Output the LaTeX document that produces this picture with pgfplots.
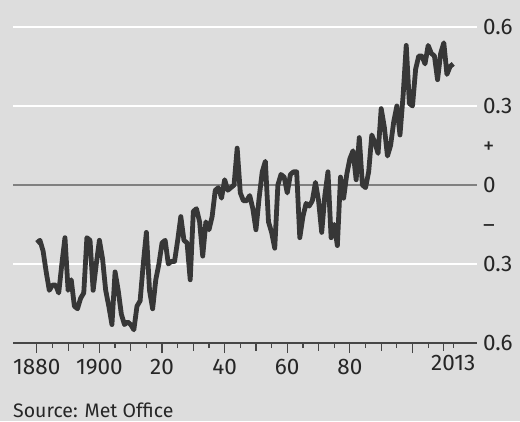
\documentclass[border=0pt]{standalone}
\usepackage{fontspec}
\setmainfont{Fira Sans}
\usepackage{pgfplots}
\pgfplotsset{compat=1.18}
\definecolor{bg}{RGB}{221,221,221}
\definecolor{linec}{RGB}{55,55,55}
\definecolor{axisc}{RGB}{70,70,70}
\definecolor{zeroc}{RGB}{128,128,128}

\begin{document}
\begin{tikzpicture}
\path[use as bounding box, fill=bg] (-13pt,-78pt) rectangle (507pt,343pt);
\begin{axis}[
    at={(0,0)}, anchor=south west,
    scale only axis, width=464pt, height=316pt,
    xmin=1872.4, xmax=2020.6, ymin=-0.6, ymax=0.6,
    clip=false,
    axis x line*=bottom, axis y line*=right,
    y axis line style={draw=none},
    x axis line style={line width=1.3pt, color=axisc},
    tick align=outside,
    xtick style={line width=1.2pt, color=axisc},
    ytick style={draw=none},
    major tick length=10pt, minor tick length=5pt,
    xtick={1880,1900,1920,1940,1960,1980,2000},
    xticklabels={1880,1900,20,40,60,80,},
    minor xtick={1885,1895,...,2005,2013},
    extra x ticks={1890,1910,1930,1950,1970,1990,2010},
    extra x tick labels={,,,,,,},
    extra x tick style={major tick length=7.5pt},
    ytick={-0.6,-0.3,-0.15,0,0.15,0.3,0.6},
    yticklabels={0.6,0.3,–,0,+,0.3,0.6},
    tick label style={font=\fontsize{22.5}{27}\selectfont, text=black!85},
    xticklabel style={anchor=base, inner sep=0pt, yshift=-21pt},
    yticklabel style={anchor=base west, inner sep=0pt, xshift=-4pt, yshift=-7.75pt},
]
\draw[white, line width=2.5pt] (axis cs:1872.4,0.6) -- (axis cs:2020.6,0.6);
\draw[white, line width=2.5pt] (axis cs:1872.4,0.3) -- (axis cs:2020.6,0.3);
\draw[white, line width=2.5pt] (axis cs:1872.4,-0.3) -- (axis cs:2020.6,-0.3);
\draw[zeroc, line width=1.5pt] (axis cs:1872.4,0) -- (axis cs:2020.6,0);
\addplot[line width=4.8pt, color=linec, line join=round, mark=none] table {
1880 -0.22
1881 -0.21
1882 -0.25
1883 -0.33
1884 -0.40
1885 -0.38
1886 -0.38
1887 -0.41
1888 -0.30
1889 -0.20
1890 -0.40
1891 -0.36
1892 -0.46
1893 -0.47
1894 -0.43
1895 -0.41
1896 -0.20
1897 -0.21
1898 -0.40
1899 -0.30
1900 -0.21
1901 -0.28
1902 -0.40
1903 -0.46
1904 -0.53
1905 -0.33
1906 -0.40
1907 -0.49
1908 -0.53
1909 -0.52
1910 -0.53
1911 -0.55
1912 -0.46
1913 -0.44
1914 -0.30
1915 -0.18
1916 -0.40
1917 -0.47
1918 -0.36
1919 -0.30
1920 -0.22
1921 -0.21
1922 -0.30
1923 -0.29
1924 -0.29
1925 -0.21
1926 -0.12
1927 -0.21
1928 -0.22
1929 -0.36
1930 -0.10
1931 -0.09
1932 -0.14
1933 -0.27
1934 -0.14
1935 -0.17
1936 -0.12
1937 -0.02
1938 -0.01
1939 -0.05
1940 0.02
1941 -0.02
1942 -0.01
1943 0.00
1944 0.14
1945 -0.03
1946 -0.06
1947 -0.06
1948 -0.04
1949 -0.09
1950 -0.17
1951 -0.05
1952 0.05
1953 0.09
1954 -0.14
1955 -0.18
1956 -0.24
1957 0.00
1958 0.04
1959 0.03
1960 -0.03
1961 0.04
1962 0.05
1963 0.05
1964 -0.20
1965 -0.12
1966 -0.07
1967 -0.08
1968 -0.06
1969 0.01
1970 -0.06
1971 -0.18
1972 -0.04
1973 0.05
1974 -0.20
1975 -0.15
1976 -0.23
1977 0.03
1978 -0.05
1979 0.04
1980 0.10
1981 0.13
1982 0.02
1983 0.18
1984 0.00
1985 -0.01
1986 0.05
1987 0.19
1988 0.16
1989 0.12
1990 0.29
1991 0.22
1992 0.11
1993 0.15
1994 0.24
1995 0.30
1996 0.19
1997 0.34
1998 0.53
1999 0.31
2000 0.30
2001 0.44
2002 0.49
2003 0.49
2004 0.46
2005 0.53
2006 0.50
2007 0.49
2008 0.40
2009 0.50
2010 0.54
2011 0.42
2012 0.45
2013 0.46
};
\node[anchor=base, inner sep=0pt, font=\fontsize{22.5}{27}\selectfont, text=black!85]
    at (axis cs:2013,-0.6) [yshift=-27pt] {2013};
\end{axis}
\node[anchor=base west, inner sep=0pt, font=\fontsize{19.5}{23}\selectfont, text=black!85]
    at (0pt,-74pt) {Source: Met Office};
\end{tikzpicture}
\end{document}
